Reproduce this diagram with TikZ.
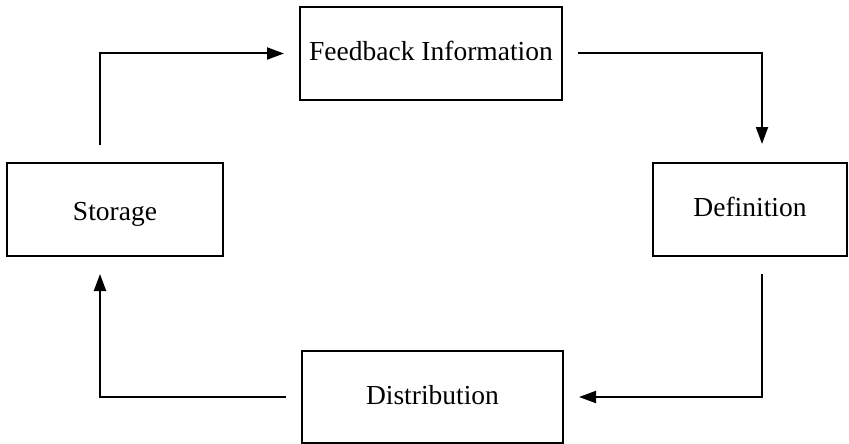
\documentclass[tikz,border=0pt]{standalone}
\usepackage{fontspec}
\setmainfont{Liberation Serif}
\usetikzlibrary{arrows.meta}
\begin{document}
\begin{tikzpicture}[x=1pt, y=-1pt,
  stage/.style={draw, line width=2pt, rectangle, inner sep=0pt,
    text height=20pt, text depth=6pt,
    font=\fontsize{27.5}{32}\selectfont},
  flow/.style={line width=2pt, -{Triangle[length=17pt, width=12pt]}}]
  \useasboundingbox (0,0) rectangle (849,444);

  % the four stages of the cycle
  \node[stage, minimum width=262pt, minimum height=93pt] (fb) at (431,53.5) {Feedback Information};
  \node[stage, minimum width=194pt, minimum height=93pt] (df) at (750,209.5) {Definition};
  \node[stage, minimum width=261pt, minimum height=92pt] (ds) at (432.5,397) {Distribution};
  \node[stage, minimum width=216pt, minimum height=93pt, text height=22pt, text depth=0pt] (st) at (115,209.5) {Storage};

  % connectors running clockwise round the cycle
  \draw[flow, shorten <=17pt, shorten >=15pt] ([xshift=-15pt]st.north) |- (fb.west);
  \draw[flow, shorten <=15pt, shorten >=18pt] (fb.east) -| ([xshift=12pt]df.north);
  \draw[flow, shorten <=17pt, shorten >=15pt] ([xshift=12pt]df.south) |- (ds.east);
  \draw[flow, shorten <=15pt, shorten >=17pt] (ds.west) -| ([xshift=-15pt]st.south);
\end{tikzpicture}
\end{document}
